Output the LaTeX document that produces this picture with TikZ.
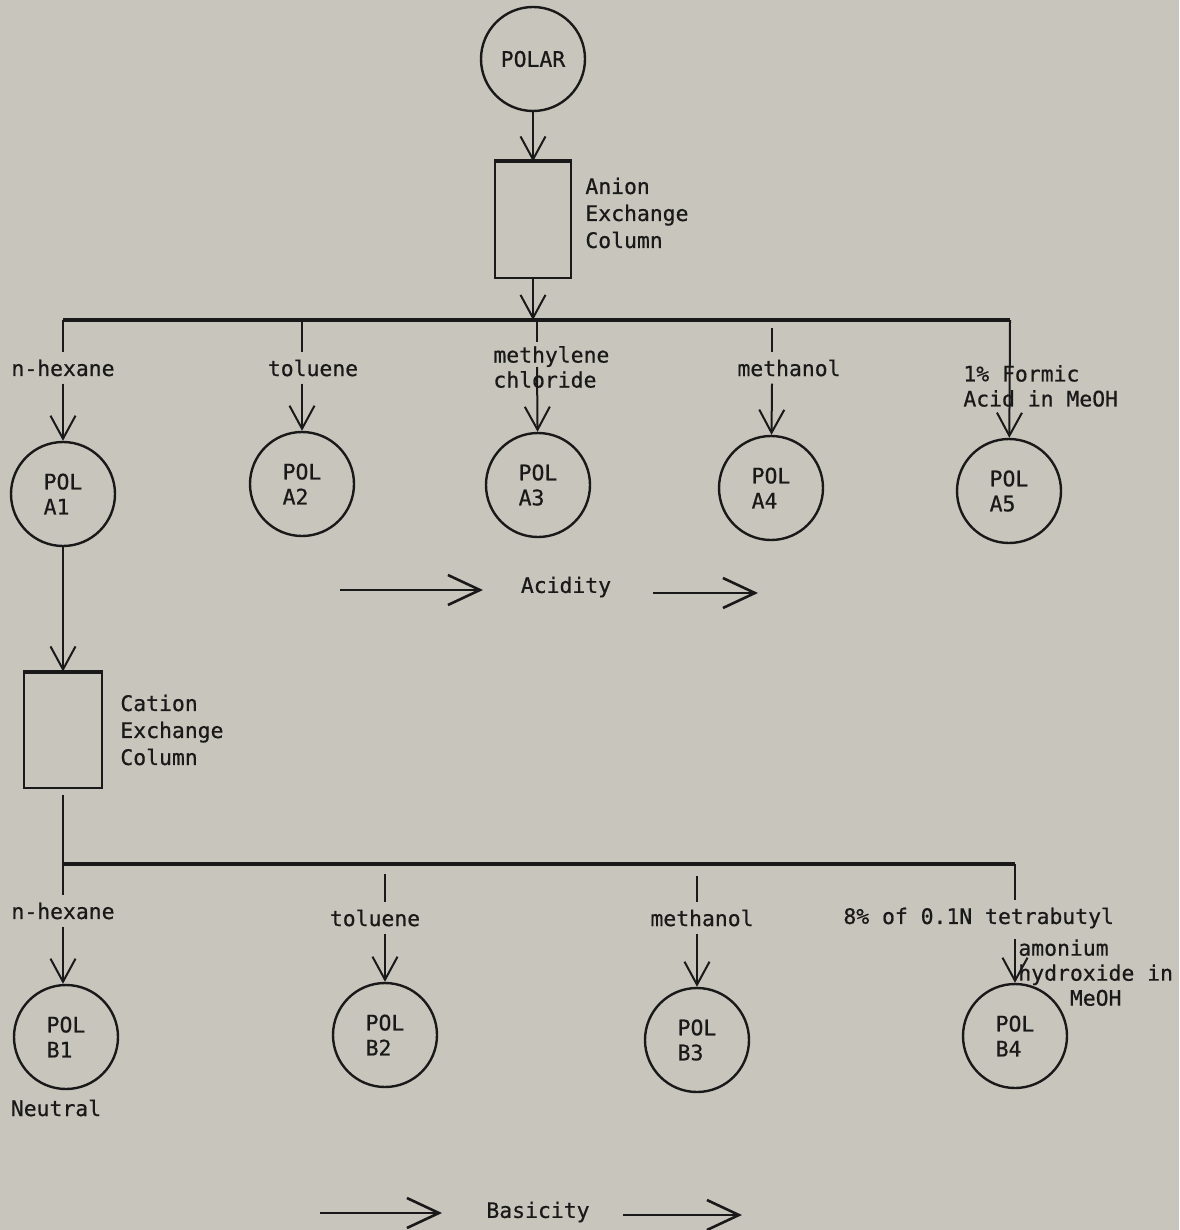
\documentclass[tikz,border=0pt]{standalone}
\usepackage{fontspec}
\setmainfont{DejaVu Sans Mono}[FakeBold=0.6]
\usetikzlibrary{arrows.meta}
\definecolor{paper}{RGB}{200,197,188}
\definecolor{ink}{RGB}{25,25,25}

\begin{document}
\begin{tikzpicture}[
  x=0.5pt, y=-0.5pt,
  font=\fontsize{10.7}{12.5}\selectfont,
  every node/.style={text=ink},
  frac/.style={draw=ink, circle, line width=1.2pt, minimum size=52pt, inner sep=0pt, align=left},
  col/.style={draw=ink, line width=1pt, minimum width=38pt, minimum height=57.5pt, inner sep=0pt},
  lid/.style={draw=ink, line width=2pt},
  solv/.style={inner sep=3.5pt},
  note/.style={inner sep=0pt, align=left},
  pipe/.style={draw=ink, line width=1pt},
  bus/.style={draw=ink, line width=1.6pt},
  flow/.style={pipe, -{Straight Barb[length=11.5pt, width=12.5pt]}},
  trend/.style={draw=ink, line width=1.3pt, -{Straight Barb[length=16pt, width=15pt]}}
]
\useasboundingbox (0,0) rectangle (1179,1230);
\fill[paper] (0,0) rectangle (1179,1230);

% feed and anion column
\node[frac] (polar) at (533,59) {POLAR};
\node[col] (anion) at (533,220) {};
\draw[lid] (anion.north west) -- (anion.north east);
\node[note, anchor=west, font=\fontsize{10.7}{13.5}\selectfont] (anlab) at (585,213) {Anion\\Exchange\\Column};
\coordinate (atee) at (533,320);
\draw[flow] (polar) -- (anion);
\draw[flow] (anion) -- (atee);

% acid fractions
\coordinate (abar1) at (63,320);
\coordinate (abar2) at (302,320);
\coordinate (abar3) at (537,320);
\coordinate (abar4) at (772,320);
\coordinate (abar5) at (1010,320);
\draw[bus] (abar1) -- (abar5);

\node[frac] (pa1) at (63,494)  {POL\\A1};
\node[frac] (pa2) at (302,484) {POL\\A2};
\node[frac] (pa3) at (538,485) {POL\\A3};
\node[frac] (pa4) at (771,488) {POL\\A4};
\node[frac] (pa5) at (1009,491){POL\\A5};

\node[solv] (ahex) at (63,368)  {n-hexane};
\node[solv] (atol) at (313,368) {toluene};
\node[note, anchor=west] (amcl) at (493,367) {methylene\\chloride};
\node[solv] (amet) at (789,368) {methanol};
\node[note, anchor=west] (afor) at (963,386) {1\% Formic\\Acid in MeOH};

\draw[pipe] (abar1) -- (ahex);
\draw[flow] (ahex) -- (pa1);
\draw[pipe] (abar2) -- (abar2 |- atol.north);
\draw[flow] (abar2 |- atol.south) -- (pa2);
\draw[pipe, shorten >=2pt] (abar3) -- (abar3 |- amcl.north);
\draw[flow] (abar3 |- amcl.center) -- (pa3);
\draw[pipe, shorten <=4pt] (abar4) -- (abar4 |- amet.north);
\draw[flow] (abar4 |- amet.south) -- (pa4);
\draw[flow] (abar5) -- (pa5);

\coordinate (acid0) at (340,590);
\coordinate (acid1) at (483,590);
\node (acidity) at (566,587) {Acidity};
\coordinate (acid2) at (653,593);
\coordinate (acid3) at (758,593);
\draw[trend] (acid0) -- (acid1);
\draw[trend] (acid2) -- (acid3);

% cation column
\node[col, minimum width=39pt] (cation) at (63,730) {};
\draw[lid] (cation.north west) -- (cation.north east);
\node[note, anchor=west, font=\fontsize{10.7}{13.5}\selectfont] (catlab) at (120,730) {Cation\\Exchange\\Column};
\draw[flow] (pa1) -- (cation);

% base fractions
\coordinate (bbar1) at (63,864);
\coordinate (bbar2) at (385,864);
\coordinate (bbar3) at (697,864);
\coordinate (bbar4) at (1015,864);
\draw[bus] (bbar1) -- (bbar4);

\node[frac] (pb1) at (66,1037)  {POL\\B1};
\node[frac] (pb2) at (385,1035) {POL\\B2};
\node[frac] (pb3) at (697,1040) {POL\\B3};
\node[frac] (pb4) at (1015,1036){POL\\B4};

\node[solv] (bhex) at (63,911)  {n-hexane};
\node[solv] (btol) at (375,918) {toluene};
\node[solv] (bmet) at (702,918) {methanol};
\node[solv, anchor=west] (btet) at (836,918) {8\% of 0.1N tetrabutyl};
\node[note, anchor=north west] (bamh) at (1018,939) {amonium\\hydroxide in\\\phantom{hydr}MeOH};
\node[note] (neutral) at (56,1108) {Neutral};

\draw[pipe, shorten <=3pt] (cation) -- (bhex);
\draw[flow] (bhex) -- (bhex |- pb1.north);
\draw[pipe, shorten <=5pt] (bbar2) -- (bbar2 |- btol.north);
\draw[flow] (bbar2 |- btol.south) -- (pb2);
\draw[pipe, shorten <=6pt] (bbar3) -- (bbar3 |- bmet.north);
\draw[flow] (bbar3 |- bmet.south) -- (pb3);
\draw[pipe] (bbar4) -- (bbar4 |- btet.north);
\draw[flow] (bbar4 |- bamh.north) -- (pb4);

\coordinate (bas0) at (320,1213);
\coordinate (bas1) at (442,1213);
\node (basicity) at (538,1212) {Basicity};
\coordinate (bas2) at (623,1215);
\coordinate (bas3) at (742,1215);
\draw[trend] (bas0) -- (bas1);
\draw[trend] (bas2) -- (bas3);
\end{tikzpicture}
\end{document}
